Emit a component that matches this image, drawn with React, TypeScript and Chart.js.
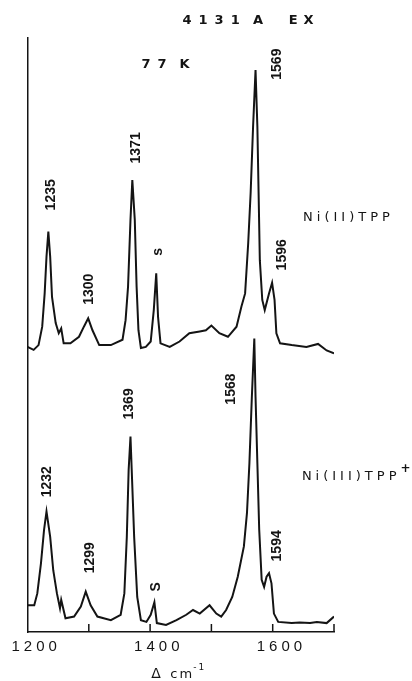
import React, { useEffect, useRef } from "react";
import { Chart, registerables } from "chart.js";

Chart.register(...registerables);

// Ni(II)TPP spectrum (upper trace): wavenumber (cm-1) and relative intensity
const topWavenumbers = [
  1200, 1210, 1218, 1224, 1228, 1231, 1234, 1237, 1240, 1246,
  1251, 1255, 1259, 1270, 1284, 1292, 1299, 1306, 1317, 1336,
  1355, 1360, 1364, 1368, 1371, 1375, 1378, 1381, 1385, 1393,
  1401, 1406, 1410, 1413, 1417, 1432, 1448, 1464, 1481, 1491,
  1500, 1513, 1527, 1541, 1549, 1555, 1560, 1564, 1568, 1572,
  1575, 1577, 1579, 1583, 1587, 1594, 1599, 1603, 1606, 1612,
  1631, 1655, 1674, 1688, 1700,
];
const topIntensity = [
  48.0, 47.5, 48.3, 51.4, 57.0, 63.2, 67.4, 63.2, 56.4, 52.0,
  50.3, 51.1, 48.6, 48.6, 49.7, 51.4, 52.8, 50.8, 48.3, 48.3,
  49.2, 52.5, 58.1, 69.4, 76.1, 69.4, 58.1, 50.8, 47.8, 48.0,
  48.9, 54.2, 60.4, 53.0, 48.6, 48.0, 48.9, 50.3, 50.6, 50.8,
  51.6, 50.3, 49.7, 51.4, 54.8, 57.0, 65.4, 73.9, 85.1, 94.6,
  85.1, 73.9, 62.6, 55.9, 54.2, 57.0, 58.8, 55.9, 50.3, 48.6,
  48.3, 48.0, 48.5, 47.4, 46.9,
];

// Ni(III)TPP+ spectrum (lower trace)
const bottomWavenumbers = [
  1200, 1211, 1216, 1222, 1227, 1231, 1237, 1242, 1248, 1253,
  1255, 1262, 1276, 1287, 1295, 1303, 1314, 1336, 1352, 1358,
  1362, 1365, 1368, 1370, 1374, 1379, 1385, 1394, 1401, 1407,
  1411, 1426, 1443, 1459, 1470, 1481, 1497, 1508, 1516, 1524,
  1534, 1543, 1553, 1558, 1562, 1566, 1570, 1572, 1575, 1578,
  1582, 1586, 1590, 1594, 1598, 1602, 1609, 1631, 1644, 1661,
  1672, 1688, 1700,
];
const bottomIntensity = [
  4.5, 4.5, 6.5, 11.6, 17.2, 20.3, 16.0, 10.4, 6.5, 4.0,
  5.4, 2.3, 2.6, 4.3, 6.8, 4.5, 2.6, 2.0, 2.9, 6.5,
  16.0, 27.3, 32.9, 27.3, 16.0, 5.9, 2.0, 1.7, 2.9, 5.0,
  1.5, 1.2, 2.0, 2.9, 3.7, 3.1, 4.5, 3.1, 2.6, 3.7,
  5.9, 9.3, 14.4, 20.0, 28.4, 39.6, 49.4, 39.6, 28.4, 17.2,
  8.8, 7.6, 9.3, 9.9, 8.2, 3.1, 1.7, 1.5, 1.6, 1.5,
  1.7, 1.5, 2.6,
];

const xTickLabels = ["1200", "1400", "1600"];

// peak annotations (text, wavenumber, intensity of label centre)
const topPeakLabels = ["1235", "1300", "1371", "s", "1569", "1596"];
const topPeakLabelX = [1238.5, 1300.7, 1377.6, 1413.6, 1606.7, 1614.9];
const topPeakLabelY = [73.6, 57.7, 81.5, 64.0, 95.6, 63.5];
const bottomPeakLabels = ["1232", "1299", "1369", "S", "1568", "1594"];
const bottomPeakLabelX = [1231.9, 1302.3, 1366.1, 1410.3, 1533.0, 1606.7];
const bottomPeakLabelY = [25.3, 12.5, 38.4, 7.6, 40.9, 14.5];

const seriesNames = ["Ni(II)TPP", "Ni(III)TPP"];
const titleText = "4131 A EX";
const tempText = "77 K";

const INK = "#141414";

const annotPlugin = {
  id: "spectrumAnnotations",
  afterDraw(chart: any) {
    const ctx = chart.ctx as CanvasRenderingContext2D;
    const c = ctx as any;
    const x = chart.scales.x;
    const y = chart.scales.y;
    ctx.save();
    ctx.fillStyle = INK;
    ctx.strokeStyle = INK;

    // inward tick marks and labels on the x axis
    ctx.lineWidth = 1.5;
    ctx.font = '15px "Liberation Sans", Arial, sans-serif';
    ctx.textAlign = "left";
    ctx.textBaseline = "middle";
    c.letterSpacing = "4px";
    x.ticks.forEach((t: any) => {
      const px = x.getPixelForValue(t.value);
      if (t.value !== x.min) {
        ctx.beginPath();
        ctx.moveTo(px, y.bottom);
        ctx.lineTo(px, y.bottom - 8);
        ctx.stroke();
      }
      const lbl = String(t.value);
      if (xTickLabels.includes(lbl)) ctx.fillText(lbl, px - 16, y.bottom + 15);
    });

    // rotated peak labels
    c.letterSpacing = "0px";
    ctx.font = 'bold 14px "Liberation Sans", Arial, sans-serif';
    ctx.textAlign = "center";
    ctx.textBaseline = "middle";
    const rot = (t: string, wx: number, wy: number) => {
      ctx.save();
      ctx.translate(x.getPixelForValue(wx), y.getPixelForValue(wy));
      ctx.rotate(-Math.PI / 2);
      ctx.fillText(t, 0, 0);
      ctx.restore();
    };
    topPeakLabels.forEach((t, i) => rot(t, topPeakLabelX[i], topPeakLabelY[i]));
    bottomPeakLabels.forEach((t, i) => rot(t, bottomPeakLabelX[i], bottomPeakLabelY[i]));

    // spaced caption texts
    ctx.textAlign = "left";
    ctx.textBaseline = "middle";
    ctx.font = 'bold 13px "DejaVu Sans", sans-serif';
    const parts = titleText.split(" ");
    const ty = y.getPixelForValue(103);
    c.letterSpacing = "7px";
    ctx.fillText(parts[0], x.getPixelForValue(1452.9), ty);
    ctx.fillText(parts[1], x.getPixelForValue(1568), ty);
    c.letterSpacing = "6px";
    ctx.fillText(parts[2], x.getPixelForValue(1626), ty);

    const tp = tempText.split(" ");
    c.letterSpacing = "7px";
    ctx.fillText(tp[0], x.getPixelForValue(1385.9), y.getPixelForValue(95.6));
    ctx.fillText(tp[1], x.getPixelForValue(1448), y.getPixelForValue(95.6));

    ctx.font = '13px "DejaVu Sans", sans-serif';
    c.letterSpacing = "4px";
    ctx.fillText(seriesNames[0], x.getPixelForValue(1649.6), y.getPixelForValue(69.7));
    const lx = x.getPixelForValue(1647.6);
    const ly = y.getPixelForValue(26.1);
    ctx.fillText(seriesNames[1], lx, ly);
    const w = ctx.measureText(seriesNames[1]).width;
    c.letterSpacing = "0px";
    ctx.font = 'bold 12px "DejaVu Sans", sans-serif';
    ctx.fillText("+", lx + w, ly - 8);

    // axis title: Δ cm-1
    ctx.textBaseline = "alphabetic";
    ctx.font = '14px "DejaVu Sans", sans-serif';
    const ax = x.getPixelForValue(1402);
    const ab = y.bottom + 46;
    ctx.fillText("Δ", ax, ab);
    c.letterSpacing = "2px";
    ctx.font = '13px "DejaVu Sans", sans-serif';
    ctx.fillText("cm", ax + 19, ab);
    const cw = ctx.measureText("cm").width;
    c.letterSpacing = "2px";
    ctx.font = '9px "DejaVu Sans", sans-serif';
    ctx.fillText("-1", ax + 18 + cw, ab - 8);
    ctx.restore();
  },
};

export default function App() {
  const canvasRef = useRef<HTMLCanvasElement | null>(null);

  useEffect(() => {
    if (!canvasRef.current) return;
    const toPoints = (xs: number[], ys: number[]) => xs.map((v, i) => ({ x: v, y: ys[i] }));
    const chart = new Chart(canvasRef.current, {
      type: "line",
      data: {
        datasets: [
          {
            label: seriesNames[0],
            data: toPoints(topWavenumbers, topIntensity),
            borderColor: INK,
            borderWidth: 2,
            pointRadius: 0,
            tension: 0,
            fill: false,
          },
          {
            label: seriesNames[1],
            data: toPoints(bottomWavenumbers, bottomIntensity),
            borderColor: INK,
            borderWidth: 2,
            pointRadius: 0,
            tension: 0,
            fill: false,
          },
        ],
      },
      options: {
        responsive: false,
        animation: false,
        events: [],
        layout: { padding: { left: 27.5, right: 78, top: 38, bottom: 29 } },
        plugins: { legend: { display: false }, tooltip: { enabled: false }, title: { display: false } },
        scales: {
          x: {
            type: "linear",
            min: 1200,
            max: 1700,
            grid: { display: false, drawTicks: false },
            border: { display: true, color: INK, width: 1.5 },
            ticks: { display: false, stepSize: 100, autoSkip: false },
            afterFit: (scale: any) => {
              scale.height = 20;
            },
          },
          y: {
            min: 0,
            max: 100,
            grid: { display: false, drawTicks: false },
            border: { display: true, color: INK, width: 1.5 },
            ticks: { display: false },
            afterFit: (scale: any) => {
              scale.width = 0;
            },
          },
        },
      },
      plugins: [annotPlugin],
    } as any);
    return () => chart.destroy();
  }, []);

  return (
    <canvas
      ref={canvasRef}
      width={412}
      height={681}
      style={{ position: "absolute", left: 0, top: 0, background: "#fff" }}
    />
  );
}
